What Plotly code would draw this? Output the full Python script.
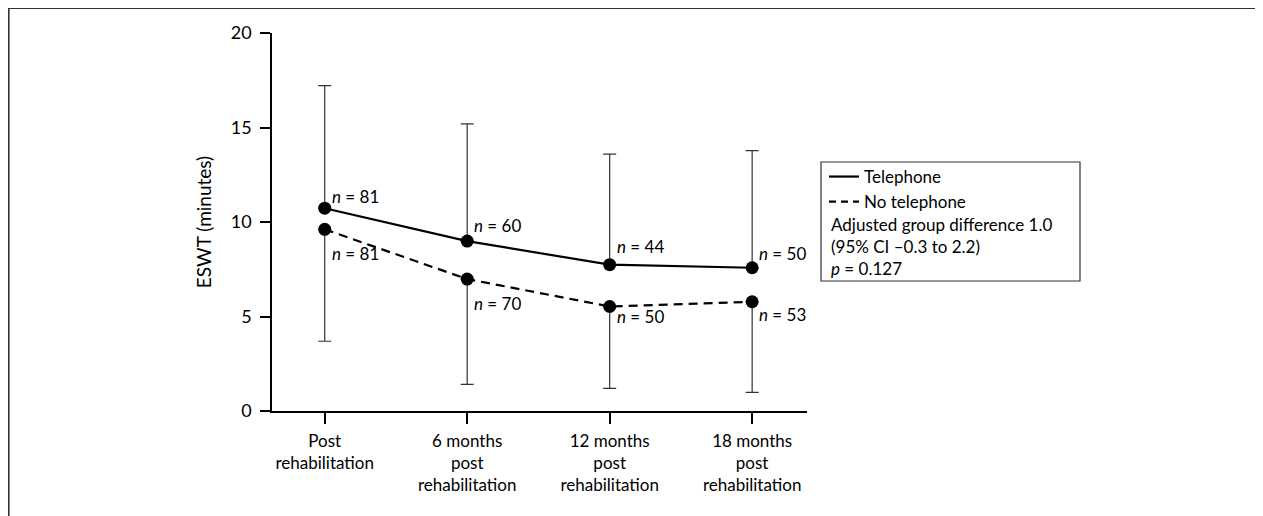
import plotly.graph_objects as go

# ---- data ----
categories = ["Post<br>rehabilitation", "6 months<br>post<br>rehabilitation",
              "12 months<br>post<br>rehabilitation", "18 months<br>post<br>rehabilitation"]
telephone_mean = [10.73, 8.99, 7.74, 7.58]
telephone_upper = [17.22, 15.19, 13.59, 13.78]
no_telephone_mean = [9.61, 6.98, 5.53, 5.78]
no_telephone_lower = [3.69, 1.41, 1.20, 0.99]
telephone_n = [81, 60, 44, 50]
no_telephone_n = [81, 70, 50, 53]
y_ticks = [0, 5, 10, 15, 20]

FONT = "Lato"
xs = list(range(len(categories)))

fig = go.Figure()

fig.add_trace(go.Scatter(
    x=xs, y=telephone_mean, mode="lines+markers", showlegend=False,
    line=dict(color="black", width=2.2),
    marker=dict(color="black", size=13),
    error_y=dict(type="data", symmetric=False,
                 array=[u - m for u, m in zip(telephone_upper, telephone_mean)],
                 arrayminus=[0] * len(telephone_mean),
                 color="#333", thickness=1.2, width=6.5),
))
fig.add_trace(go.Scatter(
    x=xs, y=no_telephone_mean, mode="lines+markers", showlegend=False,
    line=dict(color="black", width=2.2, dash="9px,6px"),
    marker=dict(color="black", size=13),
    error_y=dict(type="data", symmetric=False,
                 array=[0] * len(no_telephone_mean),
                 arrayminus=[m - l for m, l in zip(no_telephone_mean, no_telephone_lower)],
                 color="#333", thickness=1.2, width=6.5),
))
# legend-only traces
fig.add_trace(go.Scatter(x=[None], y=[None], mode="lines", name="Telephone",
                         line=dict(color="black", width=2.2)))
fig.add_trace(go.Scatter(x=[None], y=[None], mode="lines", name="No telephone",
                         line=dict(color="black", width=2.2, dash="7px,5px")))

# n labels
tel_shift = [12, 16, 18, 14]
notel_shift = [-24, -24, -10, -13]
for x, y, n, s in zip(xs, telephone_mean, telephone_n, tel_shift):
    fig.add_annotation(x=x, y=y, text=f"<i>n</i> = {n}", showarrow=False,
                       xanchor="left", yanchor="middle", xshift=5, yshift=s,
                       font=dict(family=FONT, size=17, color="black"))
for x, y, n, s in zip(xs, no_telephone_mean, no_telephone_n, notel_shift):
    fig.add_annotation(x=x, y=y, text=f"<i>n</i> = {n}", showarrow=False,
                       xanchor="left", yanchor="middle", xshift=5, yshift=s,
                       font=dict(family=FONT, size=17, color="black"))

# page offset (body margin) and plot area, in screenshot pixels
OFF = 8
L, T, W, H = 272 - OFF, 33 - OFF, 535, 378
FW, FH = 1263, 516
def px(v): return (v - OFF - L) / W
def py(v): return (T + H - (v - OFF)) / H

fig.add_shape(type="rect", xref="paper", yref="paper",
              x0=px(821), x1=px(1080), y0=py(281), y1=py(162),
              line=dict(color="#333", width=1.2))
fig.add_annotation(xref="paper", yref="paper", x=px(829), y=py(211.5),
                   xanchor="left", yanchor="top", align="left", showarrow=False,
                   text="Adjusted group difference 1.0<br>(95% CI \u20130.3 to 2.2)<br><i>p</i> = 0.127",
                   font=dict(family=FONT, size=17, color="black"))
# outer frame (top and left edges visible)
fig.add_shape(type="rect", xref="paper", yref="paper",
              x0=px(8.8), x1=px(1500), y0=py(800), y1=py(8.3),
              line=dict(color="#333", width=1.6))

fig.update_layout(
    width=FW, height=FH,
    margin=dict(l=L, r=FW - L - W, t=T, b=FH - T - H),
    plot_bgcolor="white", paper_bgcolor="white",
    font=dict(family=FONT, size=17, color="black"),
    legend=dict(x=px(824), y=py(159), xanchor="left", yanchor="top",
                bgcolor="rgba(0,0,0,0)", borderwidth=0,
                font=dict(family=FONT, size=17), tracegroupgap=0),
    xaxis=dict(range=[-0.37, 3.385], tickmode="array", tickvals=xs, ticktext=categories,
               showline=True, linecolor="black", linewidth=1.5,
               ticks="outside", ticklen=11, tickwidth=1.5, tickcolor="black",
               showgrid=False, zeroline=False, ticklabelstandoff=3,
               tickfont=dict(family=FONT, size=17)),
    yaxis=dict(range=[0, 20], tickvals=y_ticks,
               showline=True, linecolor="black", linewidth=1.5,
               ticks="outside", ticklen=10, tickwidth=1.5, tickcolor="black",
               showgrid=False, zeroline=False, ticklabelstandoff=5,
               tickfont=dict(family=FONT, size=18),
               title=dict(text="ESWT (minutes)", standoff=14,
                          font=dict(family=FONT, size=19))),
)

fig.write_html("out.html")
